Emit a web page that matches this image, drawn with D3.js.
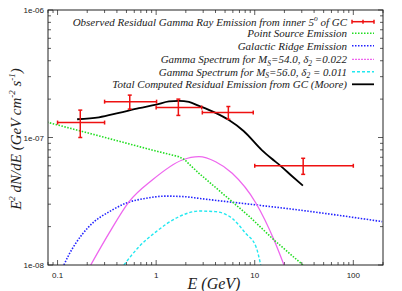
<!DOCTYPE html>
<html>
<head>
<meta charset="utf-8">
<script src="https://cdn.jsdelivr.net/npm/d3@7"></script>
<style>
  body { margin: 0; background: #fff; }
  .tick-label { font-family: "Liberation Sans", Arial, sans-serif; font-size: 8px; fill: #222; }
  .serif { font-family: "Liberation Serif", "Times New Roman", serif; font-style: italic; fill: #222; }
</style>
</head>
<body>
<div id="chart"></div>
<script>
// observed residual gamma ray points: energy, low/high energy, flux, low/high flux
const obsE    = [0.17, 0.54, 1.68, 5.4, 31];
const obsELo  = [0.10, 0.30, 1.00, 2.94, 10];
const obsEHi  = [0.30, 1.01, 2.90, 9.66, 100];
const obsF    = [1.31e-7, 1.91e-7, 1.72e-7, 1.57e-7, 6.0e-8];
const obsFLo  = [1.0e-7, 1.67e-7, 1.49e-7, 1.39e-7, 5.14e-8];
const obsFHi  = [1.64e-7, 2.15e-7, 2.0e-7, 1.75e-7, 6.87e-8];

// point source
const psE = [0.078, 0.263, 0.906, 1.70, 1.95, 2.15, 2.72, 8.73, 15.7, 30.8];
const psF = [1.32e-7, 1.03e-7, 7.98e-8, 7.07e-8, 6.7e-8, 6.2e-8, 5.24e-8, 2.42e-8, 1.57e-8, 1.0e-8];

// galactic ridge
const grE = [0.116, 0.130, 0.153, 0.208, 0.359, 0.491, 0.783, 1.25, 1.99, 2.72, 10.3, 28.1, 90.2, 196];
const grF = [1.0e-8, 1.20e-8, 1.48e-8, 2.0e-8, 2.70e-8, 3.05e-8, 3.33e-8, 3.47e-8, 3.43e-8, 3.33e-8, 2.96e-8, 2.70e-8, 2.39e-8, 2.19e-8];

// Ms = 54.0
const m54E = [0.217, 0.332, 0.530, 0.913, 1.84, 2.72, 4.01, 5.91, 10.3, 15.7, 19.8];
const m54F = [1.0e-8, 1.77e-8, 3.13e-8, 4.64e-8, 6.66e-8, 7.07e-8, 6.45e-8, 5.24e-8, 3.05e-8, 1.57e-8, 1.0e-8];

// Ms = 56.0
const m56E = [0.471, 0.669, 0.995, 1.70, 2.72, 4.01, 5.91, 8.09, 10.3, 11.5];
const m56F = [1.0e-8, 1.39e-8, 1.82e-8, 2.39e-8, 2.65e-8, 2.62e-8, 2.32e-8, 1.77e-8, 1.39e-8, 1.0e-8];

// total computed (Moore)
const totE = [0.158, 0.263, 0.420, 0.669, 1.0, 1.35, 1.70, 2.15, 2.72, 3.86, 5.47, 7.76, 11.8, 14.6, 18.4, 23.8, 30.8];
const totF = [1.39e-7, 1.44e-7, 1.56e-7, 1.70e-7, 1.81e-7, 1.92e-7, 1.94e-7, 1.90e-7, 1.77e-7, 1.58e-7, 1.37e-7, 1.12e-7, 7.97e-8, 6.9e-8, 5.97e-8, 4.99e-8, 4.19e-8];

const xTicks = [0.1, 1, 10, 100];
const yTicks = [1e-8, 1e-7, 1e-6];
const yTickLabels = ["1e-08", "1e-07", "1e-06"];

const W = 402, H = 291;
const margin = { top: 10, right: 19, bottom: 26, left: 48 };
const pw = W - margin.left - margin.right;
const ph = H - margin.top - margin.bottom;

const svg = d3.select("#chart").append("svg")
  .attr("width", W).attr("height", H);

const x = d3.scaleLog().domain([0.08, 200]).range([0, pw]);
const y = d3.scaleLog().domain([1e-8, 1e-6]).range([ph, 0]);

const g = svg.append("g").attr("transform", "translate(" + margin.left + "," + margin.top + ")");

g.append("clipPath").attr("id", "clip")
  .append("rect").attr("width", pw).attr("height", ph);

// minor/major ticks, mirrored inside the frame
let xMinor = [];
for (let d = 0.01; d < 1000; d *= 10) {
  for (let k = 1; k < 10; k++) {
    let v = d * k;
    if (v >= 0.08 && v <= 200) xMinor.push(v);
  }
}
let yMinor = [];
for (let d = 1e-8; d < 1e-6; d *= 10) {
  for (let k = 2; k < 10; k++) yMinor.push(d * k);
}

const ticks = g.append("g").attr("stroke", "#333").attr("stroke-width", 0.8);
xMinor.forEach(v => {
  let len = xTicks.some(t => Math.abs(t - v) / t < 1e-6) ? 5 : 3;
  ticks.append("line").attr("x1", x(v)).attr("x2", x(v)).attr("y1", ph).attr("y2", ph - len);
  ticks.append("line").attr("x1", x(v)).attr("x2", x(v)).attr("y1", 0).attr("y2", len);
});
yMinor.concat(yTicks).forEach(v => {
  let len = yTicks.includes(v) ? 5 : 3;
  ticks.append("line").attr("x1", 0).attr("x2", len).attr("y1", y(v)).attr("y2", y(v));
  ticks.append("line").attr("x1", pw).attr("x2", pw - len).attr("y1", y(v)).attr("y2", y(v));
});

g.selectAll(".xl").data(xTicks).enter().append("text")
  .attr("class", "tick-label")
  .attr("x", d => x(d)).attr("y", ph + 13)
  .attr("text-anchor", "middle")
  .text(d => d);

g.selectAll(".yl").data(yTicks).enter().append("text")
  .attr("class", "tick-label")
  .attr("x", -4).attr("y", d => y(d) + 3)
  .attr("text-anchor", "end")
  .text((d, i) => yTickLabels[i]);

// curves
const plot = g.append("g").attr("clip-path", "url(#clip)");
const line = d3.line().x(d => x(d[0])).y(d => y(d[1])).curve(d3.curveMonotoneX);
const straight = d3.line().x(d => x(d[0])).y(d => y(d[1]));

function drawCurve(es, fs, color, width, dash, gen) {
  plot.append("path")
    .datum(es.map((e, i) => [e, fs[i]]))
    .attr("d", gen || line)
    .attr("fill", "none")
    .attr("stroke", color)
    .attr("stroke-width", width)
    .attr("stroke-dasharray", dash);
}

drawCurve(grE, grF, "#2222ff", 1.6, "1.5,1.5");
drawCurve(m56E, m56F, "#22e8f0", 1.4, "3,2");
drawCurve(m54E, m54F, "#ee66ee", 1.3, null);
drawCurve(psE, psF, "#22dd22", 1.6, "1.5,1.5", straight);
drawCurve(totE, totF, "#000", 1.8, null);

// error bars
const red = "#ee1111";
const eb = plot.append("g").attr("stroke", red).attr("stroke-width", 1.5);
obsE.forEach((e, i) => {
  let cx = x(e), cy = y(obsF[i]);
  let x0 = x(obsELo[i]), x1 = x(obsEHi[i]);
  let y0 = y(obsFLo[i]), y1 = y(obsFHi[i]);
  eb.append("line").attr("x1", x0).attr("x2", x1).attr("y1", cy).attr("y2", cy);
  eb.append("line").attr("x1", cx).attr("x2", cx).attr("y1", y0).attr("y2", y1);
  eb.append("line").attr("x1", x0).attr("x2", x0).attr("y1", cy - 2).attr("y2", cy + 2);
  eb.append("line").attr("x1", x1).attr("x2", x1).attr("y1", cy - 2).attr("y2", cy + 2);
  eb.append("line").attr("x1", cx - 2).attr("x2", cx + 2).attr("y1", y0).attr("y2", y0);
  eb.append("line").attr("x1", cx - 2).attr("x2", cx + 2).attr("y1", y1).attr("y2", y1);
});

// frame
g.append("rect").attr("width", pw).attr("height", ph)
  .attr("fill", "none").attr("stroke", "#222").attr("stroke-width", 1);

// legend
const legend = g.append("g");
const legX = 299, sx0 = 304, sx1 = 326;
const rows = [
  { parts: [["Observed Residual Gamma Ray Emission from inner 5", ""], ["o", "sup"], [" of GC", ""]], color: red, width: 1.5, dash: null, bar: true },
  { parts: [["Point Source Emission", ""]], color: "#22dd22", width: 1.6, dash: "1.5,1.5" },
  { parts: [["Galactic Ridge Emission", ""]], color: "#2222ff", width: 1.6, dash: "1.5,1.5" },
  { parts: [["Gamma Spectrum for M", ""], ["S", "sub"], ["=54.0, δ", ""], ["2", "sub"], [" =0.022", ""]], color: "#ee66ee", width: 1.3, dash: "2,1" },
  { parts: [["Gamma Spectrum for M", ""], ["S", "sub"], ["=56.0, δ", ""], ["2", "sub"], [" = 0.011", ""]], color: "#22e8f0", width: 1.4, dash: "3,2" },
  { parts: [["Total Computed Residual Emission from GC (Moore)", ""]], color: "#000", width: 1.8, dash: null }
];
const rowY = [11.7, 23.3, 35.7, 49.3, 61.7, 74.3];

rows.forEach((r, i) => {
  let yy = rowY[i];
  let t = legend.append("text").attr("class", "serif")
    .attr("x", legX).attr("y", yy + 4)
    .attr("text-anchor", "end")
    .style("font-size", "11px");
  let prev = "";
  r.parts.forEach(p => {
    let ts = t.append("tspan").text(p[0]);
    if (p[1] === "sub") ts.attr("dy", 2.5).style("font-size", "7.5px");
    else if (p[1] === "sup") ts.attr("dy", -5).style("font-size", "7.5px");
    else if (prev === "sub") ts.attr("dy", -2.5);
    else if (prev === "sup") ts.attr("dy", 5);
    prev = p[1];
  });
  legend.append("line").attr("x1", sx0).attr("x2", sx1).attr("y1", yy).attr("y2", yy)
    .attr("stroke", r.color).attr("stroke-width", r.width).attr("stroke-dasharray", r.dash);
  if (r.bar) {
    [sx0, (sx0 + sx1) / 2, sx1].forEach(bx => {
      legend.append("line").attr("x1", bx).attr("x2", bx).attr("y1", yy - 2).attr("y2", yy + 2)
        .attr("stroke", r.color).attr("stroke-width", 1.5);
    });
  }
});

// axis titles
svg.append("text").attr("class", "serif")
  .attr("x", 214).attr("y", 289)
  .attr("text-anchor", "middle")
  .style("font-size", "16px")
  .text("E (GeV)");

const yt = svg.append("text").attr("class", "serif")
  .attr("transform", "translate(21,139) rotate(-90)")
  .attr("text-anchor", "middle")
  .style("font-size", "15px");
yt.append("tspan").text("E");
yt.append("tspan").attr("dy", -6).style("font-size", "9px").text("2");
yt.append("tspan").attr("dy", 6).text(" dN/dE (GeV cm");
yt.append("tspan").attr("dy", -6).style("font-size", "9px").text("-2");
yt.append("tspan").attr("dy", 6).text(" s");
yt.append("tspan").attr("dy", -6).style("font-size", "9px").text("-1");
yt.append("tspan").attr("dy", 6).text(")");
</script>
</body>
</html>
